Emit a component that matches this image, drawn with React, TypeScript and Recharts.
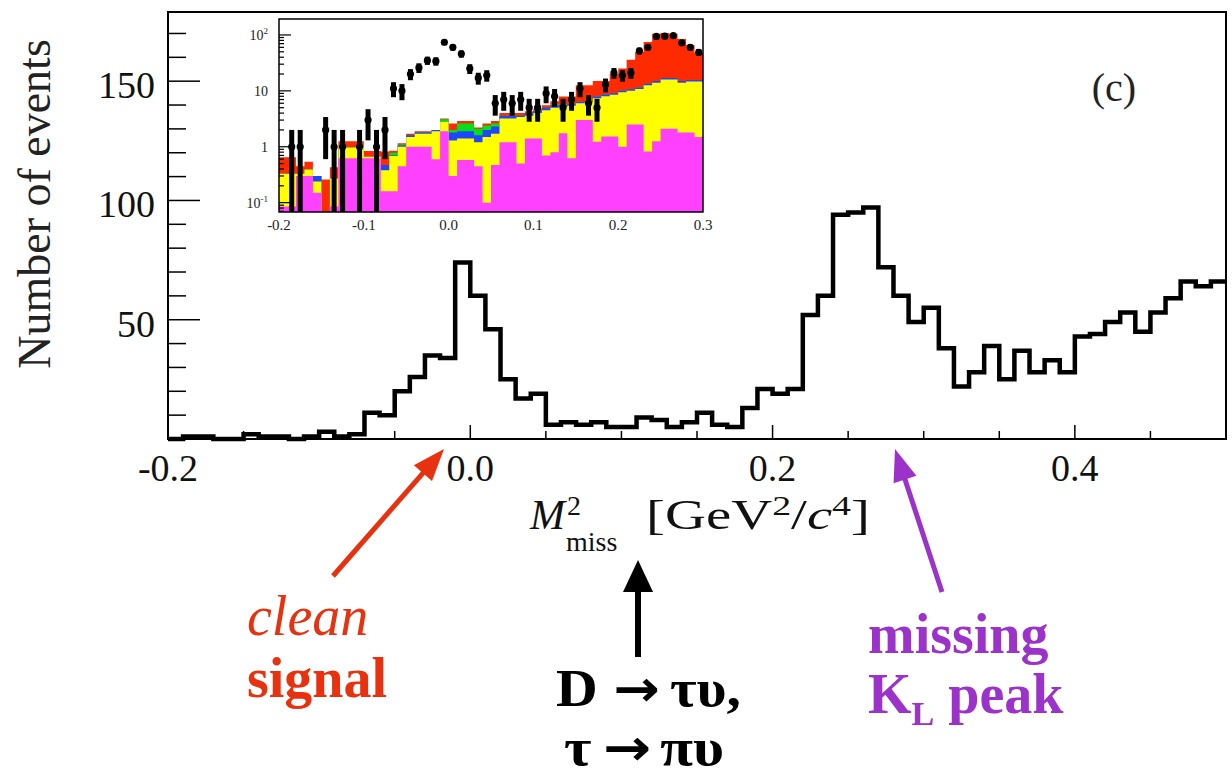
import React from "react";
import {
  ComposedChart,
  Line,
  Area,
  Scatter,
  ErrorBar,
  XAxis,
  YAxis,
  ReferenceArea,
} from "recharts";

const BIN = 0.01;
const X_MIN = -0.2;
const X_MAX = 0.5;
const INSET_X_MAX = 0.3;
const Y_MAX = 179;
const INSET_Y_MIN = 0.068;
const INSET_Y_MAX = 193;

// events per 0.01 GeV^2/c^4 bin, first bin starts at -0.20
const mainCounts = [
  0, 1, 1, 0, 0, 2, 1, 1, 0, 1,
  3, 1, 2, 11, 10, 20, 26, 35, 34, 74,
  60, 46, 25, 17, 19, 6, 7, 6, 7, 5,
  5, 9, 8, 5, 7, 11, 6, 5, 13, 21,
  19, 21, 52, 60, 94, 95, 97, 72, 60, 49,
  55, 38, 22, 28, 39, 25, 37, 28, 33, 28,
  43, 44, 49, 53, 45, 53, 59, 66, 64, 66,
];

// inset (log scale): errors on the data points of the first 50 bins
const insetErrors = [
  0, 1, 1, 0, 0, 1.4, 1, 1, 0, 1,
  1.7, 1, 1.4, 3.3, 3.2, 4.5, 5.1, 5.9, 5.8, 8.6,
  7.7, 6.8, 5, 4.1, 4.4, 2.4, 2.6, 2.4, 2.6, 2.2,
  2.2, 3, 2.8, 2.2, 2.6, 3.3, 2.4, 2.2, 3.6, 4.6,
  4.4, 4.6, 7.2, 7.7, 9.7, 9.7, 9.8, 8.5, 7.7, 7,
];

// inset stacked MC, top edge of each layer (bottom to top)
const insetMagenta = [
  0.085, 0.085, 0.3, 0.3, 0.15, 0.068, 0.085, 0.62, 0.62, 0.62,
  0.62, 0.62, 0.16, 0.16, 0.45, 1.0, 1.0, 1.0, 0.6, 1.9,
  0.3, 0.58, 0.58, 0.45, 0.1, 0.47, 1.2, 1.2, 0.5, 1.4,
  1.4, 0.7, 0.8, 1.74, 0.62, 3.0, 3.0, 1.23, 1.52, 1.52,
  1.0, 2.5, 2.5, 0.82, 1.26, 2.1, 2.1, 1.8, 1.8, 1.5,
];
const insetYellow = [
  0.33, 0.33, 0.33, 0.39, 0.24, 0.068, 0.27, 0.97, 0.97, 0.97,
  0.66, 0.66, 0.38, 0.68, 1.0, 1.5, 1.7, 1.7, 1.9, 2.8,
  1.3, 1.4, 1.4, 1.2, 1.5, 1.7, 3.2, 3.2, 3.4, 3.6,
  4.0, 4.5, 5.0, 5.2, 5.4, 6.0, 6.2, 7.4, 8.0, 8.5,
  9.4, 10.0, 10.8, 12.6, 14, 15.9, 15.9, 14.0, 14.7, 14.7,
];
const insetBlue = [
  0.33, 0.33, 0.33, 0.39, 0.3, 0.068, 0.27, 0.97, 0.97, 0.97,
  0.66, 0.66, 0.47, 0.7, 1.05, 1.6, 1.8, 1.8, 2.0, 2.8,
  1.8, 1.9, 1.9, 1.6, 2.0, 2.3, 3.6, 3.6, 3.6, 4.0,
  4.4, 5.0, 5.5, 5.6, 5.8, 6.4, 6.6, 7.9, 8.6, 9.1,
  10, 10.7, 11.5, 13.4, 15, 17, 17, 15, 15.7, 15.7,
];
const insetGreen = [
  0.33, 0.33, 0.33, 0.39, 0.3, 0.068, 0.27, 0.97, 0.97, 0.97,
  0.66, 0.66, 0.47, 0.78, 1.1, 1.6, 1.8, 1.8, 2.0, 3.1,
  2.0, 2.6, 2.6, 2.1, 2.4, 2.6, 3.6, 3.6, 3.6, 4.0,
  4.4, 5.0, 5.7, 5.7, 5.8, 6.4, 6.6, 7.9, 8.6, 9.1,
  10, 10.7, 11.5, 13.4, 15, 17, 17, 15, 15.7, 15.7,
];
const insetRed = [
  0.65, 0.65, 0.45, 0.54, 0.3, 0.26, 0.43, 1.26, 1.26, 1.26,
  0.84, 0.84, 0.82, 0.85, 1.15, 1.7, 1.9, 1.9, 2.0, 3.2,
  2.6, 2.9, 2.9, 2.2, 2.6, 2.9, 4.0, 4.0, 4.0, 4.3,
  4.8, 5.5, 6.5, 7.9, 7.9, 12.6, 12.6, 15, 15, 20,
  25, 36, 50, 75, 105, 108, 105, 85, 66, 48,
];

const mainXTicks = [-0.2, -0.15, -0.1, -0.05, 0, 0.05, 0.1, 0.15, 0.2, 0.25, 0.3, 0.35, 0.4, 0.45];
const mainXMajors = [-0.2, 0, 0.2, 0.4];
const mainXLabels = ["-0.2", "0.0", "0.2", "0.4"];
const mainYTicks = [10, 20, 30, 40, 50, 60, 70, 80, 90, 100, 110, 120, 130, 140, 150, 160, 170];

const insetXTicks = [-0.2, -0.1, 0, 0.1, 0.2, 0.3];
const insetXLabels = ["-0.2", "-0.1", "0.0", "0.1", "0.2", "0.3"];
const insetYTicks = [
  0.07, 0.08, 0.09, 0.1, 0.2, 0.3, 0.4, 0.5, 0.6, 0.7, 0.8, 0.9,
  1, 2, 3, 4, 5, 6, 7, 8, 9, 10, 20, 30, 40, 50, 60, 70, 80, 90, 100,
];
const insetYMajors = [0.1, 1, 10, 100];
const insetYBase = ["10", "1", "10", "10"];
const insetYExp = ["-1", "", "", "2"];

const SERIF = "'Liberation Serif', 'Times New Roman', serif";

const mainData = mainCounts.map((n, i) => ({ x: X_MIN + i * BIN, n }));
mainData.push({ x: X_MAX, n: mainCounts[mainCounts.length - 1] });

const insetData = insetMagenta.map((m, i) => ({
  x: X_MIN + i * BIN,
  m,
  yl: insetYellow[i],
  b: insetBlue[i],
  g: insetGreen[i],
  r: insetRed[i],
}));
const lastInset = insetData[insetData.length - 1];
insetData.push({ ...lastInset, x: INSET_X_MAX });

const insetPoints = insetErrors
  .map((e, i) => {
    const n = mainCounts[i];
    return {
      x: X_MIN + (i + 0.5) * BIN,
      n,
      err: [n - Math.max(n - e, INSET_Y_MIN), e],
    };
  })
  .filter((p) => p.n > 0);

const near = (a: number, b: number) => Math.abs(a - b) < 1e-9;

const renderMainXTick = (props: any) => {
  const { x, y, payload } = props;
  const idx = mainXMajors.findIndex((m) => near(m, payload.value));
  return (
    <g>
      <line x1={x} y1={y} x2={x} y2={y - (idx >= 0 ? 14 : 8)} stroke="#000" strokeWidth={1.5} />
      {idx >= 0 && (
        <text x={x} y={y + 42} textAnchor="middle" fontFamily={SERIF} fontSize={38} fill="#111">
          {mainXLabels[idx]}
        </text>
      )}
    </g>
  );
};

const renderMainYTick = (props: any) => {
  const { x, y, payload } = props;
  const major = payload.value % 50 === 0;
  return (
    <g>
      <line x1={x} y1={y} x2={x + (major ? 32 : 18)} y2={y} stroke="#000" strokeWidth={1.5} />
      {major && (
        <text x={x - 13} y={y + 17} textAnchor="end" fontFamily={SERIF} fontSize={38} fill="#111">
          {payload.value}
        </text>
      )}
    </g>
  );
};

const renderInsetXTick = (props: any) => {
  const { x, y, payload } = props;
  const idx = insetXTicks.findIndex((t) => near(t, payload.value));
  return (
    <text x={x} y={y + 18} textAnchor="middle" fontFamily={SERIF} fontSize={15} fill="#222">
      {insetXLabels[idx]}
    </text>
  );
};

const renderInsetYTick = (props: any) => {
  const { x, y, payload } = props;
  const idx = insetYMajors.findIndex((t) => near(t, payload.value));
  return (
    <g>
      <line x1={x} y1={y} x2={x + (idx >= 0 ? 12 : 5)} y2={y} stroke="#000" strokeWidth={1.2} />
      {idx >= 0 && (
        <text x={x - 11} y={y + 5} textAnchor="end" fontFamily={SERIF} fontSize={14} fill="#222">
          {insetYBase[idx]}
          {insetYExp[idx] && (
            <tspan dy={-6} fontSize={9}>
              {insetYExp[idx]}
            </tspan>
          )}
        </text>
      )}
    </g>
  );
};

function Arrow(props: {
  x1: number; y1: number; x2: number; y2: number;
  color: string; w: number; headLen: number; headHalf: number;
}) {
  const { x1, y1, x2, y2, color, w, headLen, headHalf } = props;
  const len = Math.hypot(x2 - x1, y2 - y1);
  const ux = (x2 - x1) / len;
  const uy = (y2 - y1) / len;
  const bx = x2 - ux * headLen;
  const by = y2 - uy * headLen;
  const px = -uy * headHalf;
  const py = ux * headHalf;
  return (
    <g>
      <line x1={x1} y1={y1} x2={bx + ux * 2} y2={by + uy * 2} stroke={color} strokeWidth={w} />
      <polygon points={`${x2},${y2} ${bx + px},${by + py} ${bx - px},${by - py}`} fill={color} />
    </g>
  );
}

const RED = "#e8320f";
const PURPLE = "#9b32c9";
const ARROW_FONT = "'DejaVu Sans', sans-serif";

function Annotations() {
  return (
    <svg width={1232} height={778} style={{ position: "absolute", left: 0, top: 0, pointerEvents: "none" }}>
      {/* y title */}
      <text
        x={50}
        y={204}
        transform="rotate(-90, 50, 204)"
        textAnchor="middle"
        fontFamily={SERIF}
        fontSize={46}
        fill="#222"
      >
        Number of events
      </text>
      <text x={1114} y={101} textAnchor="middle" fontFamily={SERIF} fontSize={40} fill="#222">
        (c)
      </text>

      {/* x title */}
      <text x={530} y={529} fontFamily={SERIF} fontSize={42} fontStyle="italic" fill="#111">M</text>
      <text x={567} y={515} fontFamily={SERIF} fontSize={28} fill="#111">2</text>
      <text x={566} y={551} fontFamily={SERIF} fontSize={28} fill="#111">miss</text>
      <text
        x={646}
        y={529}
        fontFamily={SERIF}
        fontSize={42}
        fill="#111"
        textLength={224}
        lengthAdjust="spacingAndGlyphs"
      >
        [GeV
        <tspan dy={-14} fontSize={28}>2</tspan>
        <tspan dy={14}>/</tspan>
        <tspan fontStyle="italic">c</tspan>
        <tspan dy={-14} fontSize={28}>4</tspan>
        <tspan dy={14}>]</tspan>
      </text>

      {/* arrows */}
      <Arrow x1={333} y1={576} x2={444} y2={449} color={RED} w={5} headLen={32} headHalf={12} />
      <Arrow x1={942} y1={592} x2={895} y2={449} color={PURPLE} w={5} headLen={32} headHalf={12} />
      <Arrow x1={638} y1={657} x2={638} y2={560} color="#000" w={6} headLen={32} headHalf={15} />

      {/* labels */}
      <text x={247} y={635} fontFamily={SERIF} fontSize={56} fontStyle="italic" fill={RED}>clean</text>
      <text x={247} y={697} fontFamily={SERIF} fontSize={56} fontWeight="bold" fill={RED}>signal</text>

      <text
        x={556}
        y={706}
        fontFamily={SERIF}
        fontSize={52}
        fontWeight="bold"
        fill="#000"
        textLength={185}
        lengthAdjust="spacingAndGlyphs"
      >
        D
        <tspan dx={14} fontFamily={ARROW_FONT} fontSize={50}>→</tspan>
        <tspan dx={9}>τυ,</tspan>
      </text>
      <text
        x={564}
        y={765}
        fontFamily={SERIF}
        fontSize={52}
        fontWeight="bold"
        fill="#000"
        textLength={160}
        lengthAdjust="spacingAndGlyphs"
      >
        τ
        <tspan dx={10} fontFamily={ARROW_FONT} fontSize={50}>→</tspan>
        <tspan dx={8}>πυ</tspan>
      </text>

      <text x={868} y={653} fontFamily={SERIF} fontSize={56} fontWeight="bold" fill={PURPLE}>missing</text>
      <text x={868} y={713} fontFamily={SERIF} fontSize={56} fontWeight="bold" fill={PURPLE}>
        K<tspan dy={12} fontSize={34}>L</tspan>
        <tspan dy={-12}> peak</tspan>
      </text>
    </svg>
  );
}

export default function App() {
  return (
    <div style={{ position: "absolute", left: 0, top: 0, width: 1232, height: 778, background: "#fff" }}>
      <div style={{ position: "absolute", left: 0, top: 0 }}>
        <ComposedChart
          width={1232}
          height={778}
          data={mainData}
          margin={{ top: 12, right: 6, bottom: 338, left: 167 }}
        >
          <XAxis
            dataKey="x"
            type="number"
            domain={[X_MIN, X_MAX]}
            ticks={mainXTicks}
            interval={0}
            height={1}
            tickSize={0}
            tickMargin={0}
            tick={renderMainXTick}
            axisLine={false}
          />
          <YAxis
            type="number"
            domain={[0, Y_MAX]}
            ticks={mainYTicks}
            interval={0}
            width={1}
            tickSize={0}
            tickMargin={0}
            tick={renderMainYTick}
            axisLine={false}
          />
          <ReferenceArea x1={X_MIN} x2={X_MAX} y1={0} y2={Y_MAX} fill="none" stroke="#000" strokeWidth={2} />
          <Line
            type="stepAfter"
            dataKey="n"
            stroke="#000"
            strokeWidth={4.5}
            strokeLinejoin="miter"
            dot={false}
            isAnimationActive={false}
          />
        </ComposedChart>
      </div>

      <div style={{ position: "absolute", left: 230, top: 10 }}>
        <ComposedChart
          width={490}
          height={230}
          data={insetData}
          margin={{ top: 9, right: 17, bottom: 18, left: 48 }}
        >
          <XAxis
            dataKey="x"
            type="number"
            domain={[X_MIN, INSET_X_MAX]}
            ticks={insetXTicks}
            interval={0}
            height={10}
            tickSize={0}
            tickMargin={0}
            tick={renderInsetXTick}
            axisLine={false}
          />
          <YAxis
            type="number"
            scale="log"
            domain={[INSET_Y_MIN, INSET_Y_MAX]}
            allowDataOverflow
            ticks={insetYTicks}
            interval={0}
            width={1}
            tickSize={0}
            tickMargin={0}
            tick={renderInsetYTick}
            axisLine={false}
          />
          <Area type="stepAfter" dataKey="r" fill="#ff2a00" fillOpacity={1} stroke="none" baseValue={INSET_Y_MIN} isAnimationActive={false} />
          <Area type="stepAfter" dataKey="g" fill="#00e01a" fillOpacity={1} stroke="none" baseValue={INSET_Y_MIN} isAnimationActive={false} />
          <Area type="stepAfter" dataKey="b" fill="#1f46ff" fillOpacity={1} stroke="none" baseValue={INSET_Y_MIN} isAnimationActive={false} />
          <Area type="stepAfter" dataKey="yl" fill="#ffff00" fillOpacity={1} stroke="none" baseValue={INSET_Y_MIN} isAnimationActive={false} />
          <Area type="stepAfter" dataKey="m" fill="#ff40ff" fillOpacity={1} stroke="none" baseValue={INSET_Y_MIN} isAnimationActive={false} />
          <Scatter
            data={insetPoints}
            dataKey="n"
            isAnimationActive={false}
            shape={(p: any) => <circle cx={p.cx} cy={p.cy} r={3.6} fill="#000" />}
          >
            <ErrorBar dataKey="err" direction="y" width={0} stroke="#000" strokeWidth={5} isAnimationActive={false} />
          </Scatter>
          <ReferenceArea
            x1={X_MIN}
            x2={INSET_X_MAX}
            y1={INSET_Y_MIN}
            y2={INSET_Y_MAX}
            fill="none"
            stroke="#000"
            strokeWidth={1.5}
          />
        </ComposedChart>
      </div>

      <Annotations />
    </div>
  );
}
